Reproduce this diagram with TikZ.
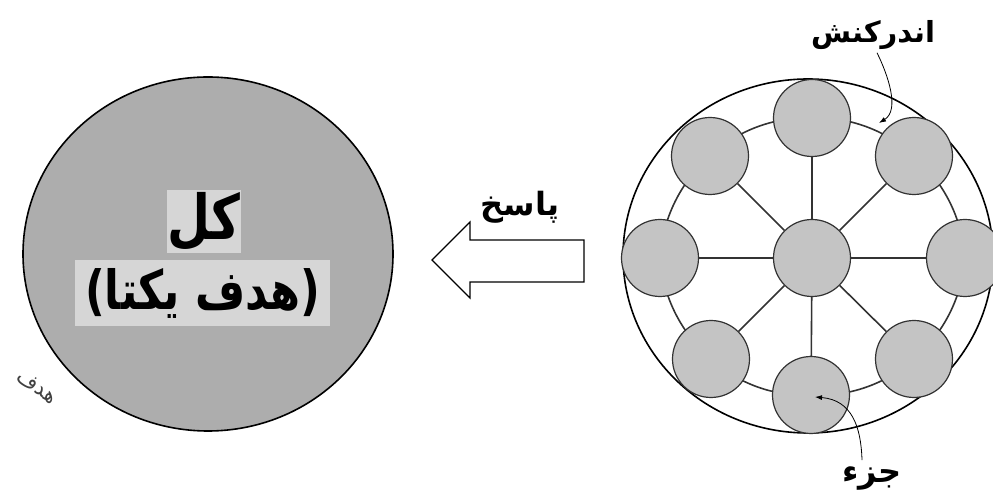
\documentclass[tikz,border=0pt]{standalone}
\usepackage{fontspec}
\usetikzlibrary{shapes.geometric,arrows.meta,backgrounds}
\newfontfamily\arabicfont[Script=Arabic]{DejaVu Sans}
\newfontfamily\arabicnarrow[Script=Arabic,FakeStretch=0.8]{DejaVu Sans}
\TeXXeTstate=1
\definecolor{bigfill}{gray}{0.68}
\definecolor{smallfill}{gray}{0.77}
\definecolor{textbg}{gray}{0.84}
\definecolor{linec}{gray}{0.2}
\begin{document}
\begin{tikzpicture}[x=1pt,y=1pt,
  part/.style={circle, draw=linec, line width=1.2pt, fill=smallfill, minimum size=77pt, inner sep=0pt},
  spoke/.style={draw=linec, line width=1.6pt},
  ringl/.style={draw=linec, line width=1.6pt, bend left=22.5, looseness=0.885},
  whole/.style={ellipse, draw=black, line width=1.6pt, minimum width=370pt, minimum height=354pt, inner sep=0pt},
  lbl/.style={font=\arabicfont\bfseries\fontsize{32}{36}\selectfont, inner sep=1pt},
  pointer/.style={draw=black, line width=0.8pt, -{Latex[length=7pt,width=5pt]}}
]
\clip (0,0) rectangle (993,495);
% left: the whole
\node (wholeL) [whole, fill=bigfill] at (208,241) {};
\node (kol) [fill=textbg, minimum width=72pt, minimum height=63pt, inner sep=0pt,
  font=\arabicnarrow\bfseries\fontsize{62}{70}\selectfont] at (204,273.5) {\beginR کل\endR};
\node (goal) [fill=textbg, minimum width=255pt, minimum height=66pt, inner sep=0pt,
  font=\arabicnarrow\bfseries\fontsize{54}{60}\selectfont] at (202.5,202) {\beginR(\kern0pt هدف یکتا\kern0pt)\endR};
\node (hw) [font=\arabicfont\fontsize{21}{24}\selectfont, text=black!75, rotate=-35] at (37,108) {\beginR هدف\endR};
% response arrow
\node (resp) [lbl] at (520,288) {\beginR پاسخ\endR};
\draw[line width=1.1pt, line join=miter] (432,235) -- (470,273) -- (470,255) -- (584,255) -- (584,213) -- (470,213) -- (470,197) -- cycle;
% right: system of parts
\node (wholeR) [whole] at (808,239) {};
\node (c)  [part] at (812,237) {};
\node (t)  [part] at (812,377) {};
\node (tr) [part] at (914,339) {};
\node (r)  [part] at (965,237) {};
\node (br) [part] at (914,136) {};
\node (b)  [part] at (811,100) {};
\node (bl) [part] at (711,136) {};
\node (l)  [part] at (660,237) {};
\node (tl) [part] at (710,339) {};
\begin{scope}[on background layer]
  \foreach \n in {t,tr,r,br,b,bl,l,tl} \draw[spoke] (c) -- (\n);
  \draw[ringl] (t.center) to (tr.center);
  \draw[ringl] (tr.center) to (r.center);
  \draw[ringl] (r.center) to (br.center);
  \draw[ringl] (br.center) to (b.center);
  \draw[ringl] (b.center) to (bl.center);
  \draw[ringl] (bl.center) to (l.center);
  \draw[ringl] (l.center) to (tl.center);
  \draw[ringl] (tl.center) to (t.center);
\end{scope}
% labels
\node (inter) [lbl, font=\arabicfont\bfseries\fontsize{29}{33}\selectfont] at (873,460) {\beginR اندرکنش\endR};
\coordinate (interEnd) at (879,372);
\draw[pointer] ([shift={(4,-2)}]inter.south) .. controls (888,420) and (900,385) .. (interEnd);
\node (jz) [lbl] at (872,16) {\beginR جزء\endR};
\coordinate (partEnd) at (815,98);
\draw[pointer] ([shift={(-10,6)}]jz.north) .. controls (861,68) and (852,95) .. (partEnd);
\end{tikzpicture}
\end{document}
